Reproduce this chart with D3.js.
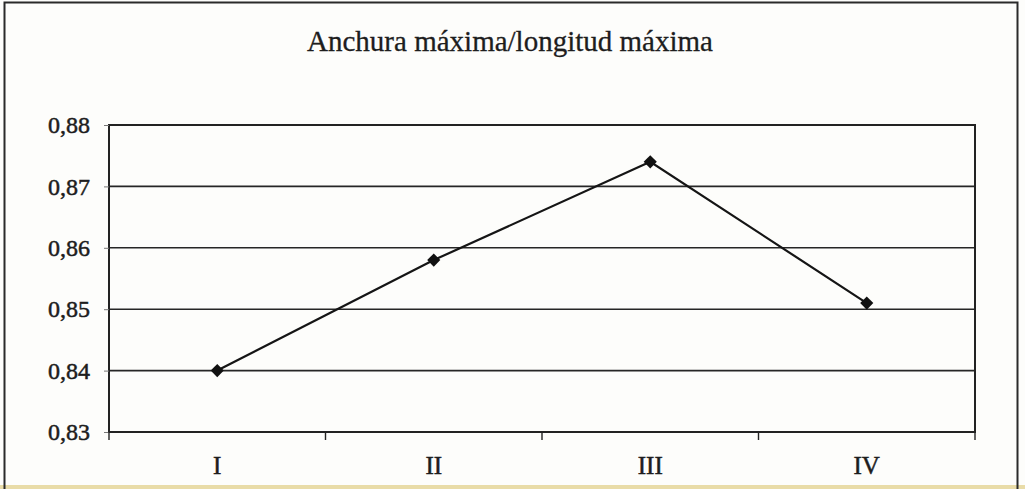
<!DOCTYPE html>
<html>
<head>
<meta charset="utf-8">
<script src="https://cdn.jsdelivr.net/npm/d3@7"></script>
<style>
  html, body { margin: 0; padding: 0; background: #fdfdfb; }
  svg { display: block; }
  text { font-family: "Liberation Serif", "Times New Roman", serif; fill: #1e1e1e; }
</style>
</head>
<body>
<svg id="chart" width="1025" height="489"></svg>
<script>
// Ratio of maximum width to maximum length per group
const categories = ["I", "II", "III", "IV"];
const values = [0.840, 0.858, 0.874, 0.851];
const yTicks = [0.83, 0.84, 0.85, 0.86, 0.87, 0.88];
const title = "Anchura máxima/longitud máxima";

const W = 1025, H = 489;
const plot = { left: 109, top: 125, right: 975, bottom: 432 };
const ink = "#1c1c1c";

const svg = d3.select("#chart");

// page background and thin warm strip along the bottom edge
svg.append("rect").attr("x", 0).attr("y", 0).attr("width", W).attr("height", H).attr("fill", "#fdfdfb");
svg.append("rect").attr("x", 0).attr("y", 485).attr("width", W).attr("height", 4).attr("fill", "#e9dca8");

// outer chart frame
svg.append("rect")
  .attr("x", 4.5).attr("y", 2.5).attr("width", 1013).attr("height", 490)
  .attr("fill", "none").attr("stroke", "#2a2a2a").attr("stroke-width", 2);

const x = d3.scaleBand().domain(categories).range([plot.left, plot.right]).padding(0);
const y = d3.scaleLinear().domain([0.83, 0.88]).range([plot.bottom, plot.top]);

// horizontal gridlines
svg.append("g")
  .selectAll("line").data(yTicks).join("line")
  .attr("x1", plot.left).attr("x2", plot.right)
  .attr("y1", d => y(d)).attr("y2", d => y(d))
  .attr("stroke", "#262626").attr("stroke-width", 1.6);

// plot area border
svg.append("rect")
  .attr("x", plot.left).attr("y", plot.top)
  .attr("width", plot.right - plot.left).attr("height", plot.bottom - plot.top)
  .attr("fill", "none").attr("stroke", "#222").attr("stroke-width", 2);

// y axis
const fmt = d => d3.format(".2f")(d).replace(".", ",");
const yAxis = svg.append("g")
  .attr("transform", `translate(${plot.left},0)`)
  .call(d3.axisLeft(y).tickValues(yTicks).tickFormat(fmt).tickSize(5).tickPadding(14));
yAxis.select(".domain").remove();
yAxis.selectAll(".tick line").attr("stroke", "#777").attr("stroke-width", 1);
yAxis.selectAll(".tick text")
  .style("font-family", '"Liberation Serif", serif')
  .style("font-size", "24px")
  .attr("fill", ink).attr("stroke", ink).attr("stroke-width", 0.5);

// x axis with ticks at band boundaries
const xAxisG = svg.append("g").attr("transform", `translate(0,${plot.bottom})`);
xAxisG.append("line")
  .attr("x1", plot.left).attr("x2", plot.right)
  .attr("stroke", "#222").attr("stroke-width", 2);
const bounds = categories.map(c => x(c)).concat([x(categories[categories.length - 1]) + x.bandwidth()]);
xAxisG.selectAll("line.tk").data(bounds).join("line")
  .attr("class", "tk")
  .attr("x1", d => d).attr("x2", d => d)
  .attr("y1", 0).attr("y2", 8)
  .attr("stroke", "#222").attr("stroke-width", 1.4);
xAxisG.selectAll("text").data(categories).join("text")
  .attr("x", d => x(d) + x.bandwidth() / 2)
  .attr("y", 42)
  .attr("text-anchor", "middle")
  .style("font-size", "25px")
  .attr("fill", ink).attr("stroke", ink).attr("stroke-width", 0.5)
  .text(d => d);

// data line
const line = d3.line()
  .x((d, i) => x(categories[i]) + x.bandwidth() / 2)
  .y(d => y(d));
svg.append("path")
  .datum(values)
  .attr("d", line)
  .attr("fill", "none").attr("stroke", "#151515").attr("stroke-width", 2.2);

// diamond markers
const diamond = d3.symbol().type(d3.symbolDiamond2).size(110);
svg.append("g")
  .selectAll("path").data(values).join("path")
  .attr("transform", (d, i) => `translate(${x(categories[i]) + x.bandwidth() / 2},${y(d)})`)
  .attr("d", diamond)
  .attr("fill", "#111");

// title
svg.append("text")
  .attr("x", 510).attr("y", 51)
  .attr("text-anchor", "middle")
  .style("font-size", "29px")
  .attr("fill", ink).attr("stroke", ink).attr("stroke-width", 0.3)
  .text(title);
</script>
</body>
</html>
